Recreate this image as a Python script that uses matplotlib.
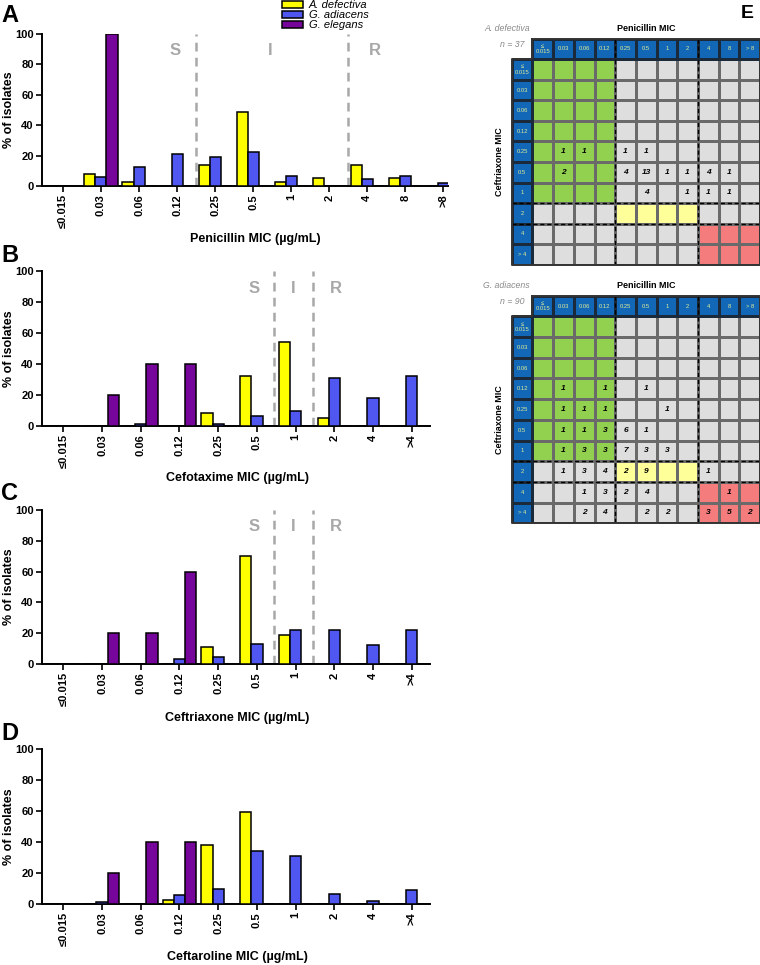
import numpy as np
import matplotlib.pyplot as plt
from matplotlib.colors import ListedColormap
from matplotlib.patches import Patch

plt.rcParams['font.family'] = ['Liberation Sans', 'DejaVu Sans']

# ---- data (bar panels, % of isolates) ----
pen_labels = ['≤0.015', '0.03', '0.06', '0.12', '0.25', '0.5', '1', '2', '4', '8', '>8']
ceph_labels = ['≤0.015', '0.03', '0.06', '0.12', '0.25', '0.5', '1', '2', '4', '>4']
species = ['A. defectiva', 'G. adiacens', 'G. elegans']

pen_adef = [0, 8.1, 2.7, 0, 13.5, 48.6, 2.7, 5.4, 13.5, 5.4, 0]
pen_gadi = [0, 5.6, 12.2, 21.1, 18.9, 22.2, 6.7, 0, 4.4, 6.7, 2.2]
pen_gele = [0, 100, 0, 0, 0, 0, 0, 0, 0, 0, 0]

ctx_adef = [0, 0, 0, 0, 8.1, 32.4, 54.1, 5.4, 0, 0]
ctx_gadi = [0, 0, 1.1, 0, 1.1, 6.7, 10.0, 31.1, 17.8, 32.2]
ctx_gele = [0, 20, 40, 40, 0, 0, 0, 0, 0, 0]

cro_adef = [0, 0, 0, 0, 10.8, 70.3, 18.9, 0, 0, 0]
cro_gadi = [0, 0, 0, 3.3, 4.4, 13.3, 22.2, 22.2, 12.2, 22.2]
cro_gele = [0, 20, 20, 60, 0, 0, 0, 0, 0, 0]

cpt_adef = [0, 0, 0, 2.7, 37.8, 59.5, 0, 0, 0, 0]
cpt_gadi = [0, 1.1, 0, 5.6, 10.0, 34.4, 31.1, 6.7, 2.2, 8.9]
cpt_gele = [0, 20, 40, 40, 0, 0, 0, 0, 0, 0]

# ---- data (panel E, isolate counts: rows = ceftriaxone, cols = penicillin) ----
tab_cols = ['≤\n0.015', '0.03', '0.06', '0.12', '0.25', '0.5', '1', '2', '4', '8', '> 8']
tab_rows = ['≤\n0.015', '0.03', '0.06', '0.12', '0.25', '0.5', '1', '2', '4', '> 4']
adef_counts = [
    [0, 0, 0, 0, 0, 0, 0, 0, 0, 0, 0],
    [0, 0, 0, 0, 0, 0, 0, 0, 0, 0, 0],
    [0, 0, 0, 0, 0, 0, 0, 0, 0, 0, 0],
    [0, 0, 0, 0, 0, 0, 0, 0, 0, 0, 0],
    [0, 1, 1, 0, 1, 1, 0, 0, 0, 0, 0],
    [0, 2, 0, 0, 4, 13, 1, 1, 4, 1, 0],
    [0, 0, 0, 0, 0, 4, 0, 1, 1, 1, 0],
    [0, 0, 0, 0, 0, 0, 0, 0, 0, 0, 0],
    [0, 0, 0, 0, 0, 0, 0, 0, 0, 0, 0],
    [0, 0, 0, 0, 0, 0, 0, 0, 0, 0, 0],
]
gadi_counts = [
    [0, 0, 0, 0, 0, 0, 0, 0, 0, 0, 0],
    [0, 0, 0, 0, 0, 0, 0, 0, 0, 0, 0],
    [0, 0, 0, 0, 0, 0, 0, 0, 0, 0, 0],
    [0, 1, 0, 1, 0, 1, 0, 0, 0, 0, 0],
    [0, 1, 1, 1, 0, 0, 1, 0, 0, 0, 0],
    [0, 1, 1, 3, 6, 1, 0, 0, 0, 0, 0],
    [0, 1, 3, 3, 7, 3, 3, 0, 0, 0, 0],
    [0, 1, 3, 4, 2, 9, 0, 0, 1, 0, 0],
    [0, 0, 1, 3, 2, 4, 0, 0, 0, 1, 0],
    [0, 0, 2, 4, 0, 2, 2, 0, 3, 5, 2],
]
# breakpoints (index of last S category / first R category)
pen_s, pen_r = 3, 8
cro_s, cro_r = 6, 8

colors = ['#ffff00', '#4f57f0', '#76059c']
sir_grey = '#a8a8a8'

W, H = 760, 965
fig = plt.figure(figsize=(W / 100, H / 100), dpi=100)


def px_axes(l, t, r, b):
    return fig.add_axes([l / W, 1 - b / H, (r - l) / W, (b - t) / H])


def ftext(x, y, s, **kw):
    return fig.text(x / W, 1 - y / H, s, **kw)


panels = [
    ('A', 'Penicillin MIC (µg/mL)', pen_labels, (pen_adef, pen_gadi, pen_gele),
     34, 186, 448, 10.12, [3.5, 7.5], [2.96, 5.45, 8.19], 15, 239, 255),
    ('B', 'Cefotaxime MIC (µg/mL)', ceph_labels, (ctx_adef, ctx_gadi, ctx_gele),
     271, 426, 430, 9.47, [5.45, 6.45], [4.93, 5.94, 7.05], 255, 478, 237),
    ('C', 'Ceftriaxone MIC (µg/mL)', ceph_labels, (cro_adef, cro_gadi, cro_gele),
     510, 664, 430, 9.47, [5.45, 6.45], [4.93, 5.94, 7.05], 494, 718, 237),
    ('D', 'Ceftaroline MIC (µg/mL)', ceph_labels, (cpt_adef, cpt_gadi, cpt_gele),
     749, 904, 430, 9.47, [], [], 733, 957, 237),
]

bw = 0.29
for letter, xlab, labels, series, top, bot, right, xmax, lines, sir_x, ly, xly, xlx in panels:
    ax = px_axes(42, top, right, bot)
    x = np.arange(len(labels))
    for k, vals in enumerate(series):
        ax.bar(x + (k - 1) * bw, vals, bw, color=colors[k], edgecolor='black',
               linewidth=1.1, label=species[k], zorder=3)
    for xv in lines:
        ax.plot([xv, xv], [0, 100], ls=(0, (3.5, 2.5)), color=sir_grey, lw=1.8, zorder=2)
    for xs, s in zip(sir_x, 'SIR'):
        ax.text(xs, 89, s, ha='center', va='center', color=sir_grey,
                fontsize=12, fontweight='bold')
    ax.set_xlim(-0.55, xmax)
    ax.set_ylim(0, 100)
    ax.set_yticks(range(0, 101, 20))
    ax.set_xticks(x)
    ax.set_xticklabels(labels, rotation=90, fontsize=8, fontweight='bold')
    for t in ax.get_yticklabels():
        t.set_fontsize(8)
        t.set_fontweight('bold')
    ax.tick_params(length=4, width=1.2, pad=2)
    for sp in ('top', 'right'):
        ax.spines[sp].set_visible(False)
    for sp in ('left', 'bottom'):
        ax.spines[sp].set_linewidth(1.4)
    ftext(9, (top + bot) / 2, '% of isolates', rotation=90, ha='center', va='center',
          fontsize=9, fontweight='bold')
    ftext(xlx, xly, xlab, ha='center', va='center', fontsize=9, fontweight='bold')
    ftext(1, ly, letter, ha='left', va='center', fontsize=17, fontweight='bold')
    if letter == 'A':
        handles = [Patch(facecolor=c, edgecolor='black', linewidth=1.1) for c in colors]
        leg = fig.legend(handles, species, loc='upper left',
                         bbox_to_anchor=(282 / W, 1.0), frameon=False,
                         prop={'style': 'italic', 'size': 8},
                         handlelength=1.85, handleheight=0.6, handletextpad=0.55,
                         labelspacing=0.02, borderpad=0, borderaxespad=0)

ftext(747, 14, 'E', ha='center', va='center', fontsize=14, fontweight='bold')

# ---- panel E tables ----
zone_colors = ['#dedede', '#92d050', '#ffff99', '#f47c7c']
head_blue = '#1268b6'
head_txt = '#dfeb98'


def draw_table(top, bot, counts, name, n_lab):
    ncol, nrow = len(tab_cols), len(tab_rows)
    ax = px_axes(511.7, top, 511.7 + 20.7 * (ncol + 1), bot)
    ax.set_xlim(0, ncol + 1)
    ax.set_ylim(nrow + 1, 0)
    ax.axis('off')
    zone = np.zeros((nrow, ncol))
    for i in range(nrow):
        c = 0 if i <= cro_s else (2 if i >= cro_r else 1)
        for j in range(ncol):
            p = 0 if j <= pen_s else (2 if j >= pen_r else 1)
            zone[i, j] = c + 1 if c == p else 0
    ax.pcolormesh(np.arange(1, ncol + 2), np.arange(1, nrow + 2), zone,
                  cmap=ListedColormap(zone_colors), vmin=-0.5, vmax=3.5,
                  edgecolors='#6a6a6a', linewidth=0.8)
    ax.pcolormesh(np.arange(1, ncol + 2), [0, 1], np.zeros((1, ncol)),
                  cmap=ListedColormap([head_blue]), edgecolors='#1a2a3a', linewidth=0.8)
    ax.pcolormesh([0, 1], np.arange(1, nrow + 2), np.zeros((nrow, 1)),
                  cmap=ListedColormap([head_blue]), edgecolors='#1a2a3a', linewidth=0.8)
    for j, lab in enumerate(tab_cols):
        ax.text(j + 1.5, 0.5, lab, ha='center', va='center', fontsize=4.2,
                color=head_txt, linespacing=1.1)
    for i, lab in enumerate(tab_rows):
        ax.text(0.5, i + 1.5, lab, ha='center', va='center', fontsize=4.2,
                color=head_txt, linespacing=1.1)
    for i, row in enumerate(counts):
        for j, v in enumerate(row):
            if v:
                ax.text(j + 1.5, i + 1.5, str(v), ha='center', va='center',
                        fontsize=6, fontweight='bold', style='italic')
    dash = (0, (3, 2))
    for xv in (pen_s + 2, pen_r + 1):
        ax.plot([xv, xv], [0, nrow + 1], color='black', lw=1.0, ls=dash)
    for yv in (cro_s + 2, cro_r + 1):
        ax.plot([0, ncol + 1], [yv, yv], color='black', lw=1.0, ls=dash)
    ax.plot([1, ncol + 1, ncol + 1, 0, 0, 1, 1], [0, 0, nrow + 1, nrow + 1, 1, 1, 0],
            color='#333333', lw=1.4, clip_on=False)
    ftext(530, top - 10, name, ha='right', va='center', fontsize=6.3, style='italic',
          color='#8a8a8a')
    ftext(525, top + 5.5, n_lab, ha='right', va='center', fontsize=6.3, style='italic',
          color='#8a8a8a')
    ftext(646, top - 10, 'Penicillin MIC', ha='center', va='center', fontsize=6.5,
          fontweight='bold')
    ftext(499, (top + bot) / 2 + 10, 'Ceftriaxone MIC', rotation=90, ha='center',
          va='center', fontsize=6.5, fontweight='bold')


draw_table(38.7, 264.7, adef_counts, 'A. defectiva', 'n = 37')
draw_table(295.7, 523.3, gadi_counts, 'G. adiacens', 'n = 90')

fig.savefig('out.png', dpi=100)
